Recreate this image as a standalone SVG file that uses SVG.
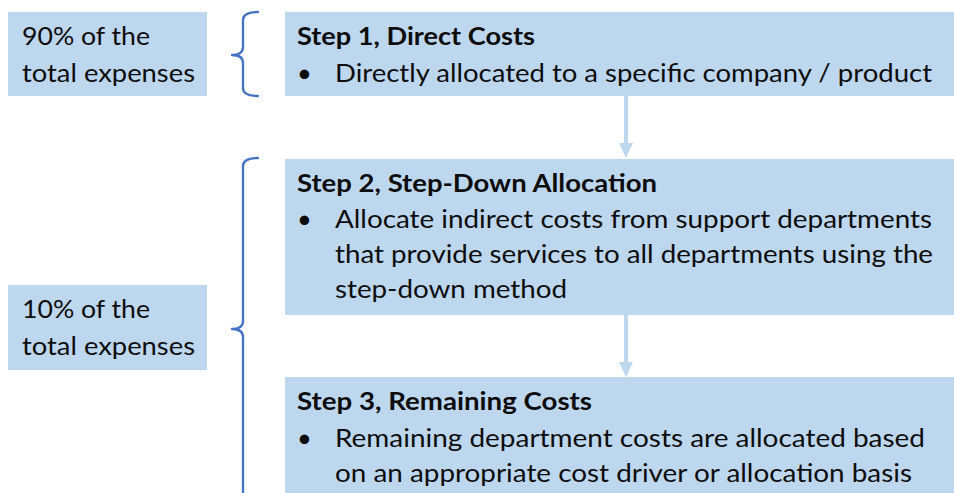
<svg xmlns="http://www.w3.org/2000/svg" width="954" height="493" viewBox="0 0 954 493">
  <style>
    .box { fill: #BDD7EE; }
    .t { font-family: Lato, "Open Sans", "Liberation Sans", sans-serif; font-size: 25.5px; fill: #0d0d0d; }
    .b { font-weight: bold; }
    .brace { fill: none; stroke: #4472C4; stroke-width: 2.3; stroke-linecap: round; stroke-linejoin: round; }
    .arrow { fill: #BDD7EE; }
  </style>

  <!-- share labels -->
  <g id="share-90">
    <rect class="box" x="8" y="12" width="199" height="84"/>
    <text class="t" x="22" y="45" textLength="128" lengthAdjust="spacingAndGlyphs">90% of the</text>
    <text class="t" x="22" y="82" textLength="173" lengthAdjust="spacingAndGlyphs">total expenses</text>
  </g>
  <g id="share-10">
    <rect class="box" x="8" y="285" width="199" height="85"/>
    <text class="t" x="22" y="318" textLength="128" lengthAdjust="spacingAndGlyphs">10% of the</text>
    <text class="t" x="22" y="355" textLength="173" lengthAdjust="spacingAndGlyphs">total expenses</text>
  </g>

  <!-- braces -->
  <g id="brace-step1">
    <path class="brace" d="M258,12 Q243,12 243,20 L243,47 Q243,55 232,55 Q243,55 243,63 L243,88 Q243,96 258,96"/>
  </g>
  <g id="brace-step23">
    <path class="brace" d="M258,158 Q243,158 243,166 L243,321 Q243,329 232,329 Q243,329 243,337 L243,492 Q243,500 258,500"/>
  </g>

  <!-- steps -->
  <g id="step1">
    <rect class="box" x="285" y="12" width="669" height="84"/>
    <text class="t b" x="297" y="45" textLength="238" lengthAdjust="spacingAndGlyphs">Step 1, Direct Costs</text>
    <text class="t" x="297" y="82">•</text>
    <text class="t" x="335" y="82" textLength="597" lengthAdjust="spacingAndGlyphs">Directly allocated to a specific company / product</text>
  </g>
  <g id="step2">
    <rect class="box" x="285" y="159" width="669" height="156"/>
    <text class="t b" x="297" y="192" textLength="360" lengthAdjust="spacingAndGlyphs">Step 2, Step-Down Allocation</text>
    <text class="t" x="297" y="228">•</text>
    <text class="t" x="335" y="228" textLength="597" lengthAdjust="spacingAndGlyphs">Allocate indirect costs from support departments</text>
    <text class="t" x="335" y="263" textLength="598" lengthAdjust="spacingAndGlyphs">that provide services to all departments using the</text>
    <text class="t" x="335" y="298" textLength="232" lengthAdjust="spacingAndGlyphs">step-down method</text>
  </g>
  <g id="step3">
    <rect class="box" x="285" y="377" width="669" height="116"/>
    <text class="t b" x="297" y="410" textLength="295" lengthAdjust="spacingAndGlyphs">Step 3, Remaining Costs</text>
    <text class="t" x="297" y="447">•</text>
    <text class="t" x="335" y="447" textLength="590" lengthAdjust="spacingAndGlyphs">Remaining department costs are allocated based</text>
    <text class="t" x="335" y="482" textLength="577" lengthAdjust="spacingAndGlyphs">on an appropriate cost driver or allocation basis</text>
  </g>

  <!-- connectors -->
  <g id="connectors">
    <path class="arrow" d="M624,96 H628 V143 H633 L626,158 L619,143 H624 Z"/>
    <path class="arrow" d="M624,315 H628 V362 H633 L626,377 L619,362 H624 Z"/>
  </g>
</svg>
